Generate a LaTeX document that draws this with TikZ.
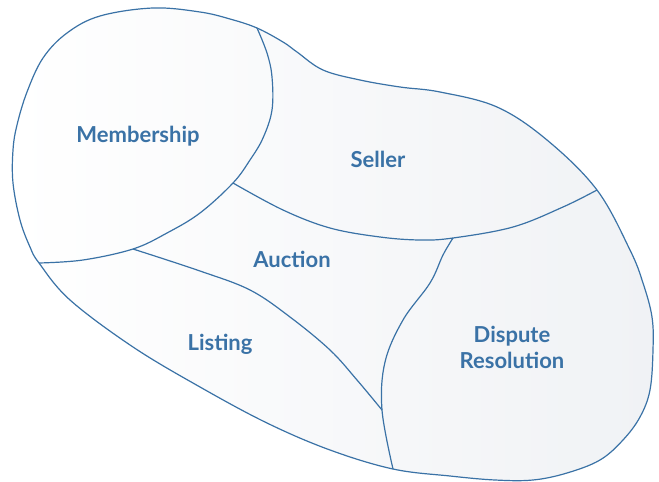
\documentclass[tikz,border=0pt]{standalone}
\usepackage{fontspec}
\setmainfont{Lato}
\usepackage{xcolor}
\usepackage{tikz}
\definecolor{Blob-line}{RGB}{58,114,166}
\definecolor{Blob-fill}{RGB}{240,242,245}
\tikzstyle{wall}=[draw=Blob-line,line width=1.2pt]
\tikzstyle{curve}=[smooth,tension=0.6]
\tikzstyle{area}=[text=Blob-line,font=\fontsize{22}{26}\selectfont\bfseries,align=center,anchor=base]

\begin{document}
\begin{tikzpicture}[x=1pt,y=-1pt]
\useasboundingbox (0,0) rectangle (659,482);

% Joints
\coordinate (top join)        at (257,28);
\coordinate (seller dispute)  at (597,190);
\coordinate (bottom join)     at (393,469);
\coordinate (left join)       at (39,263);
\coordinate (member seller)   at (233,183);
\coordinate (member listing)  at (133,249);
\coordinate (auction dispute) at (453,238);
\coordinate (listing dispute) at (382,410);

% Outline
\shadedraw[wall,left color=white,right color=Blob-fill]
  plot[smooth cycle,tension=0.6] coordinates {
    (153,8) (200,12) (230,19) (top join) (283,42) (297,52) (323,70)
    (360,80) (400,87) (440,92) (497,107) (547,140) (seller dispute)
    (630,250) (643,283) (652,317) (653,350) (650,390) (640,417)
    (623,440) (600,460) (567,473) (533,480) (495,480) (450,476)
    (bottom join) (330,450) (267,423) (200,387) (133,347) (70,300)
    (left join) (30,247) (20,220) (13,183) (13,150) (17,125) (27,92)
    (43,58) (67,33) (100,16)};

% Borders
\draw[wall] plot[curve] coordinates {(top join) (267,53) (272,77) (272,110)
  (263,138) (250,160) (member seller) (200,213) (167,233) (member listing)
  (83,260) (left join)};
\draw[wall] plot[curve] coordinates {(member seller) (283,210) (330,228)
  (380,237) (420,240) (auction dispute) (513,227) (563,207) (seller dispute)};
\draw[wall] plot[curve] coordinates {(auction dispute) (443,255) (430,283)
  (403,320) (385,362) (listing dispute) (bottom join)};
\draw[wall] plot[curve] coordinates {(member listing) (200,271) (250,290)
  (290,317) (330,350) (357,380) (listing dispute)};

% Nodes
\node[area] (membership) at (138,142) {Membership};
\node[area] (seller)     at (378,167) {Seller};
\node[area] (auction)    at (292,267) {Auction};
\node[area] (listing)    at (220,350) {Listing};
\node[area] (dispute)    at (512,368) {Dispute\\Resolution};

\end{tikzpicture}
\end{document}
